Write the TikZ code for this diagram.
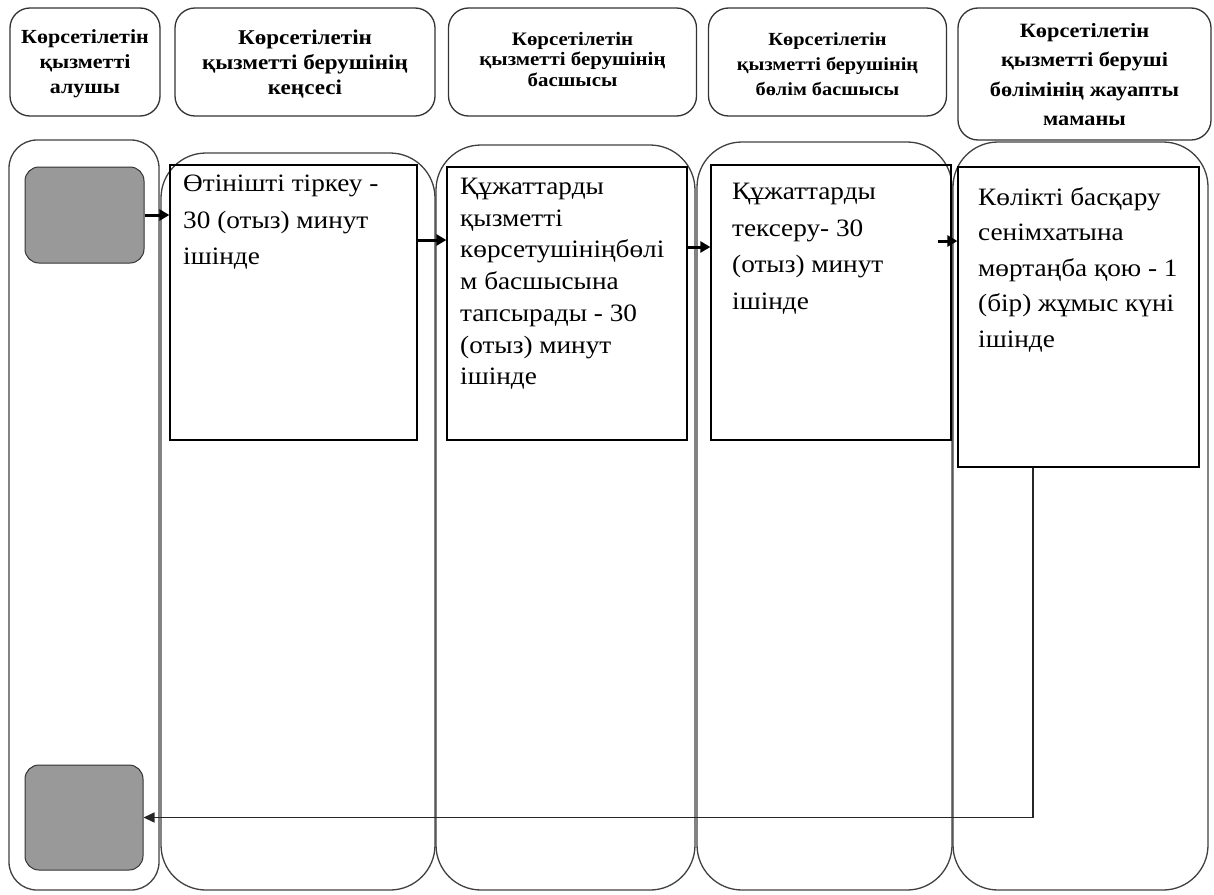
\documentclass[tikz,border=0pt]{standalone}
\usepackage{fontspec}
\setmainfont{Liberation Serif}
\newfontfamily\bodyfont[FakeStretch=1.09]{Liberation Serif}
\newfontfamily\hdrfont[FakeStretch=1.1]{Liberation Serif}
\usetikzlibrary{arrows.meta}
\definecolor{laneline}{HTML}{404040}
\definecolor{termfill}{HTML}{999999}
\begin{document}
\begin{tikzpicture}[x=1pt,y=-1pt,
  lane/.style={draw=laneline, line width=1.3pt, rounded corners=45pt, inner sep=0pt},
  lanea/.style={lane, rounded corners=28pt},
  hdr/.style={draw=black!80, line width=1.3pt, rounded corners=20pt, inner sep=0pt},
  hdrtxt/.style 2 args={align=center, inner sep=0pt, font=\hdrfont\bfseries\fontsize{#1}{#2}\selectfont},
  proc/.style={draw=black, line width=1.2pt, inner sep=0pt},
  term/.style={draw=black!80, fill=termfill, rounded corners=14pt, line width=1pt, inner sep=0pt},
  txt/.style={anchor=north west, align=left, inner sep=0pt, font=\bodyfont\fontsize{25}{#1}\selectfont},
  flow/.style={line width=3pt, -{Triangle[length=10pt,width=11pt]}},
  ret/.style={line width=1.5pt, draw=black!85, -{Triangle[length=11pt,width=10pt]}}
]
\useasboundingbox (0,0) rectangle (1214,894);
% lanes
\node[lanea, minimum width=150pt, minimum height=750pt] (l1) at (84,515) {};
\node[lane, minimum width=274pt, minimum height=737pt] (l2) at (298,521.5) {};
\node[lane, minimum width=259pt, minimum height=745pt] (l3) at (565.5,517.5) {};
\node[lane, minimum width=255pt, minimum height=748pt] (l4) at (824.5,516) {};
\node[lane, minimum width=255pt, minimum height=748pt] (l5) at (1080.5,516) {};
% headers
\node[hdr, minimum width=150pt, minimum height=108pt] (h1) at (85,62) {};
\node[hdr, minimum width=260pt, minimum height=108pt] (h2) at (305,62) {};
\node[hdr, minimum width=248pt, minimum height=108pt] (h3) at (572.5,62) {};
\node[hdr, minimum width=238pt, minimum height=108pt] (h4) at (827.5,62) {};
\node[hdr, minimum width=253pt, minimum height=132pt] (h5) at (1084.5,74) {};
\node[hdrtxt={20}{25}] (ht1) at (85,64) {Көрсетілетін\\қызметті\\алушы};
\node[hdrtxt={21}{25}] (ht2) at (305,64) {Көрсетілетін\\қызметті берушінің\\кеңсесі};
\node[hdrtxt={19}{20.5}] (ht3) at (572.5,59) {Көрсетілетін\\қызметті берушінің\\басшысы};
\node[hdrtxt={18.5}{25}] (ht4) at (827.5,64) {Көрсетілетін\\қызметті берушінің\\бөлім басшысы};
\node[hdrtxt={20.3}{29.5}] (ht5) at (1084.5,74.5) {Көрсетілетін\\қызметті беруші\\бөлімінің жауапты\\маманы};
% terminals
\node[term, minimum width=119pt, minimum height=96pt] (g1) at (84.5,215) {};
\node[term, minimum width=118pt, minimum height=105pt] (g2) at (84,817.5) {};
% process boxes
\node[proc, minimum width=247pt, minimum height=275pt] (b1) at (293.5,302.5) {};
\node[proc, minimum width=240pt, minimum height=273pt] (b2) at (567,303.5) {};
\node[proc, minimum width=240pt, minimum height=275pt] (b3) at (831,302.5) {};
\node[proc, minimum width=241pt, minimum height=300pt] (b4) at (1078.5,317) {};
\node[txt=36.3] (t1) at (183,175) {Өтінішті тіркеу -\\30 (отыз) минут\\ішінде};
\node[txt=31.7] (t2) at (460,178) {Құжаттарды\\қызметті\\көрсетушініңбөлі\\м басшысына\\тапсырады - 30\\(отыз) минут\\ішінде};
\node[txt=36.7] (t3) at (732,183) {Құжаттарды\\тексеру- 30\\(отыз) минут\\ішінде};
\node[txt=35.5] (t4) at (978,187) {Көлікті басқару\\сенімхатына\\мөртаңба қою - 1\\(бір) жұмыс күні\\ішінде};
% connectors
\coordinate (r2) at (0,240);
\coordinate (r3) at (0,247);
\coordinate (r4) at (0,241);
\coordinate (s4) at ([xshift=-14pt]b3.east);
\coordinate (rx) at (1033,0);
\draw[flow] (g1.east) -- (b1.west |- g1.east);
\draw[flow] (b1.east |- r2) -- (b2.west |- r2);
\draw[flow] (b2.east |- r3) -- (b3.west |- r3);
\draw[flow] (s4 |- r4) -- (b4.west |- r4);
\draw[ret] (b4.south -| rx) -- (rx |- g2.east) -- (g2.east);
\end{tikzpicture}
\end{document}
